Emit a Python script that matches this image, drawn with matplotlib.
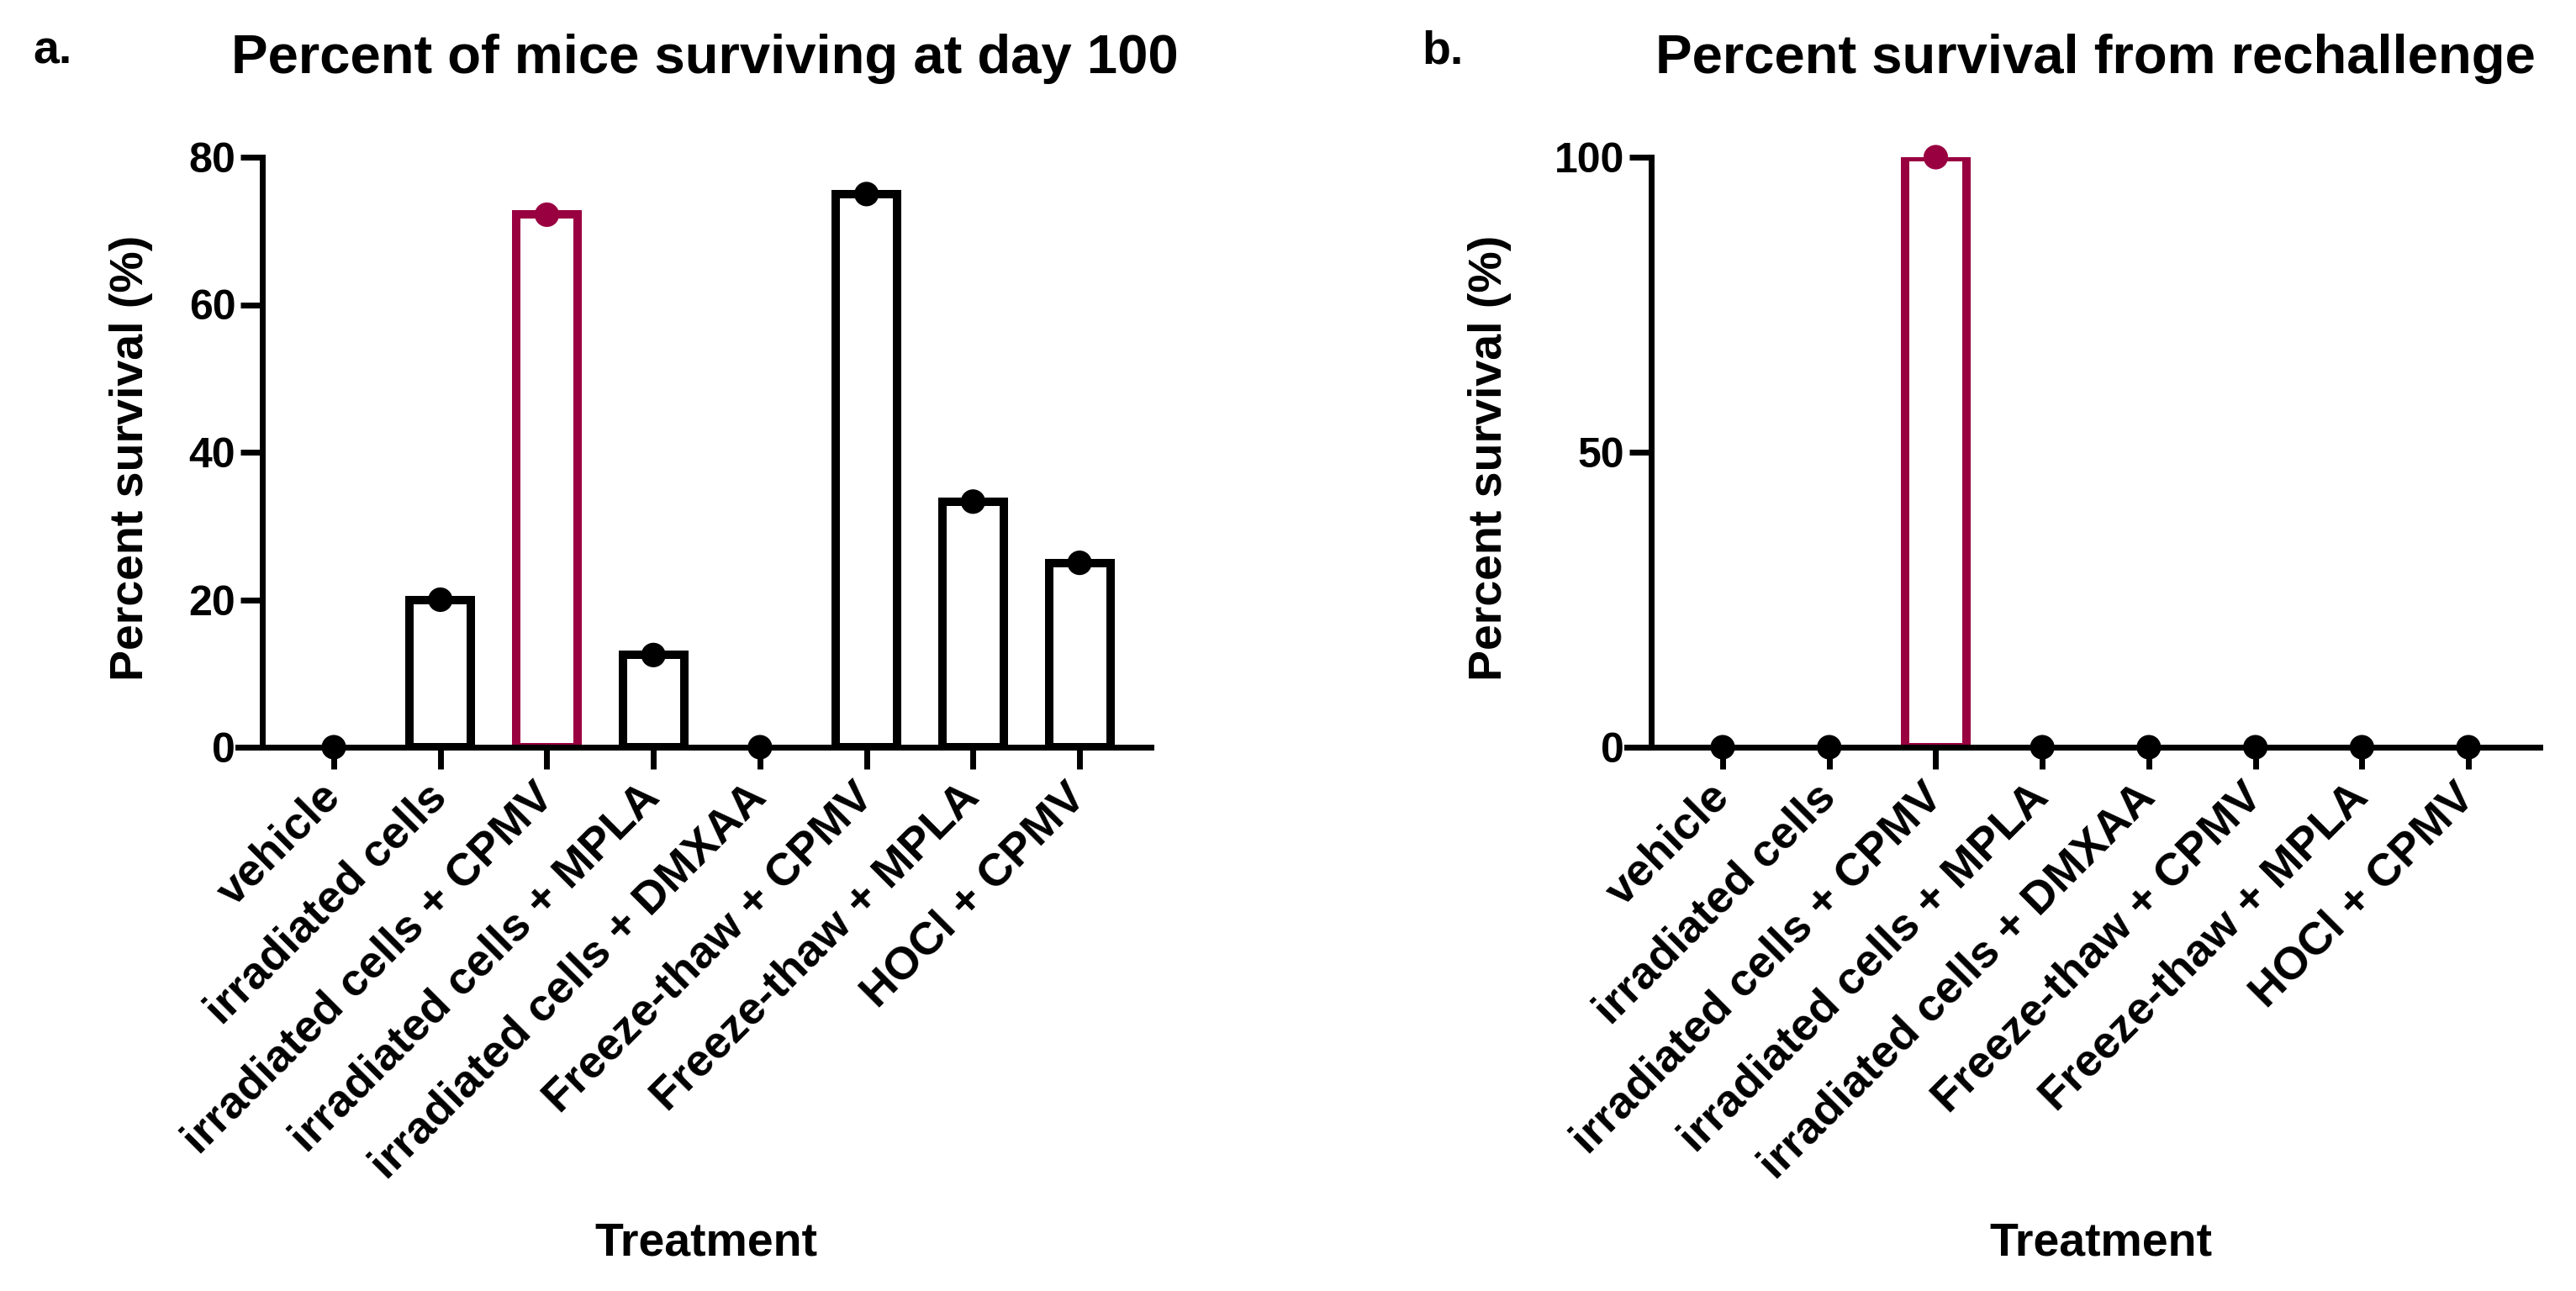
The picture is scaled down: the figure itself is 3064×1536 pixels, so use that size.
import matplotlib

matplotlib.use("Agg")
import matplotlib.pyplot as plt

plt.rcParams["font.family"] = ["Liberation Sans", "DejaVu Sans"]
plt.rcParams["font.weight"] = "bold"

treatments = [
    "vehicle",
    "irradiated cells",
    "irradiated cells + CPMV",
    "irradiated cells + MPLA",
    "irradiated cells + DMXAA",
    "Freeze-thaw + CPMV",
    "Freeze-thaw + MPLA",
    "HOCl + CPMV",
]
survival_day100 = [0, 20, 72.2, 12.5, 0, 75, 33.3, 25]
survival_rechallenge = [0, 0, 100, 0, 0, 0, 0, 0]
highlight = "irradiated cells + CPMV"

CRIMSON = "#990040"
W, H = 3064, 1536
TOP, ZERO = 187, 889


def draw_panel(ax, values, ymax, yticks):
    x = list(range(len(treatments)))
    colors = [CRIMSON if t == highlight else "black" for t in treatments]
    # zero-height bars are not drawn in the original
    bx = [i for i in x if values[i] > 0]
    ax.bar(bx, [values[i] for i in bx], width=0.575, facecolor="white",
           edgecolor=[colors[i] for i in bx], linewidth=3.6, zorder=2)
    ax.scatter(x, values, s=10.5 ** 2, c=colors, zorder=5, clip_on=False,
               linewidths=0)

    ax.set_xlim(-0.9, 7.67)
    ax.set_ylim(0, ymax)
    ax.set_yticks(yticks)
    ax.set_xticks(x)
    ax.set_xticklabels(treatments, rotation=45, ha="right", va="center",
                       rotation_mode="anchor", fontsize=19.5)

    ax.spines["top"].set_visible(False)
    ax.spines["right"].set_visible(False)
    ax.spines["left"].set_position(("data", -0.67))
    for side in ["left", "bottom"]:
        ax.spines[side].set_linewidth(2.5)
        ax.spines[side].set_zorder(3)
    ax.tick_params(axis="both", direction="out", length=9.5, width=2.5)
    ax.tick_params(axis="y", labelsize=18, pad=2)
    ax.tick_params(axis="x", pad=9)


fig = plt.figure(figsize=(W / 200, H / 200), dpi=200)

ax_h = (ZERO - TOP) / H
ax_a = fig.add_axes([283 / W, (H - ZERO) / H, 1086 / W, ax_h])
ax_b = fig.add_axes([1935 / W, (H - ZERO) / H, 1086 / W, ax_h])

draw_panel(ax_a, survival_day100, 80, [0, 20, 40, 60, 80])
draw_panel(ax_b, survival_rechallenge, 100, [0, 50, 100])

for ylx, xlx in [(156, 840), (1772, 2499)]:
    fig.text(ylx / W, 1 - 545 / H, "Percent survival (%)", rotation=90,
             ha="center", va="center", fontsize=20)
    fig.text(xlx / W, 1 - 1493 / H, "Treatment", ha="center",
             va="baseline", fontsize=20)

fig.text(838 / W, 1 - 87 / H, "Percent of mice surviving at day 100",
         ha="center", va="baseline", fontsize=23.5)
fig.text(2492 / W, 1 - 87 / H, "Percent survival from rechallenge",
         ha="center", va="baseline", fontsize=23.5)
fig.text(39 / W, 1 - 75 / H, "a.", ha="left", va="baseline", fontsize=20)
fig.text(1691 / W, 1 - 75 / H, "b.", ha="left", va="baseline", fontsize=20)

fig.savefig("out.png", dpi=200, facecolor="white")
